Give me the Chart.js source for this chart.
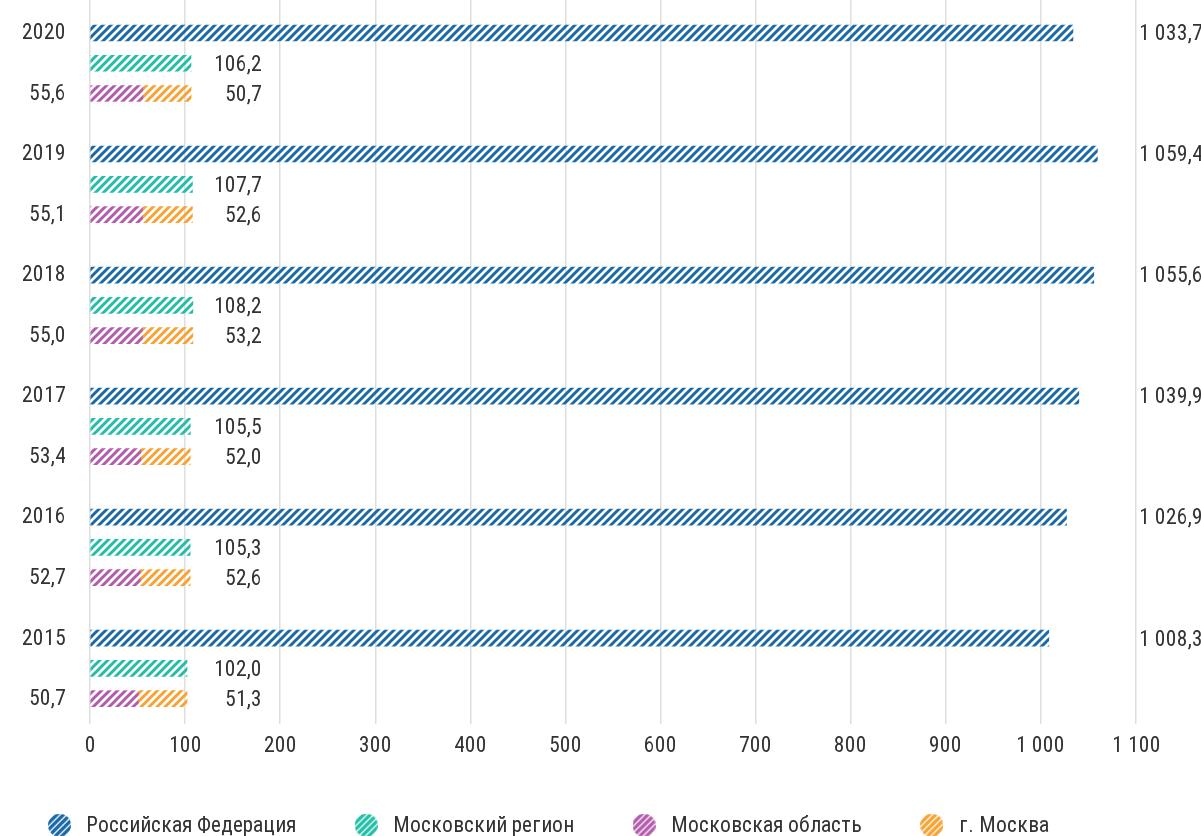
<!DOCTYPE html>
<html lang="ru">
<head>
<meta charset="utf-8">
<title>Российская Федерация и Московский регион</title>
<script src="https://cdn.jsdelivr.net/npm/chart.js@4.4.1/dist/chart.umd.min.js"></script>
<style>
  @font-face { font-family: 'RCond'; src: local('Roboto Condensed'), local('RobotoCondensed-Regular'); }
  html, body { margin: 0; padding: 0; background: #fff; }
  #wrap { position: relative; width: 1201px; height: 836px; }
</style>
</head>
<body>
<div id="wrap"><canvas id="chart"></canvas></div>
<script>
const years = ['2020', '2019', '2018', '2017', '2016', '2015'];
const russia = [1033.7, 1059.4, 1055.6, 1039.9, 1026.9, 1008.3];
const moscowRegion = [106.2, 107.7, 108.2, 105.5, 105.3, 102.0];
const moscowOblast = [55.6, 55.1, 55.0, 53.4, 52.7, 50.7];
const moscowCity = [50.7, 52.6, 53.2, 52.0, 52.6, 51.3];
const seriesNames = ['Российская Федерация', 'Московский регион', 'Московская область', 'г. Москва'];
const seriesColors = ['#1b6aa7', '#22bea8', '#b35bac', '#f6a234'];

const FONT = "RCond, 'Roboto Condensed', Roboto, sans-serif";
const TEXT = '#333333';

// each year takes 4 rows: country, region, oblast+city, gap
const rowOf = (i, k) => i * 4 + k;

function fmt(v, dec) {
  const s = v.toFixed(dec === undefined ? 1 : dec).split('.');
  const int = s[0].replace(/\B(?=(\d{3})+(?!\d))/g, ' ');
  return s.length > 1 ? int + ',' + s[1] : int;
}

const canvas = document.getElementById('chart');
const ctx = canvas.getContext('2d');

function hatch(color) {
  const c = document.createElement('canvas');
  const s = 8;
  c.width = s; c.height = s;
  const g = c.getContext('2d');
  g.strokeStyle = color;
  g.lineWidth = 3;
  g.beginPath();
  g.moveTo(-2, s + 2); g.lineTo(s + 2, -2);
  g.moveTo(-2, 2); g.lineTo(2, -2);
  g.moveTo(s - 2, s + 2); g.lineTo(s + 2, s - 2);
  g.stroke();
  return ctx.createPattern(c, 'repeat');
}

function legendIcon(color) {
  const c = document.createElement('canvas');
  const d = 23;
  c.width = d; c.height = d;
  const g = c.getContext('2d');
  g.beginPath();
  g.arc(d / 2, d / 2, d / 2, 0, Math.PI * 2);
  g.clip();
  g.strokeStyle = color;
  g.lineWidth = 3.4;
  g.beginPath();
  for (let k = -4; k <= 4; k++) {
    const o = k * 6.6;
    g.moveTo(o - 2, d + 2); g.lineTo(o + d + 2, -2);
  }
  g.stroke();
  return c;
}

const yLabels = {};
years.forEach((y, i) => {
  yLabels[rowOf(i, 0)] = y;
  yLabels[rowOf(i, 2)] = fmt(moscowOblast[i]);
});

const icons = seriesColors.map(legendIcon);

const valueLabels = {
  id: 'valueLabels',
  afterDatasetsDraw(chart) {
    const { ctx, scales: { x } } = chart;
    ctx.save();
    ctx.font = '21.5px ' + FONT;
    ctx.fillStyle = TEXT;
    ctx.textBaseline = 'middle';
    ctx.textAlign = 'left';
    chart.getDatasetMeta(0).data.forEach((bar, i) => {
      ctx.fillText(fmt(russia[i]), x.getPixelForValue(1103), bar.y + 1);
    });
    ctx.textAlign = 'right';
    chart.getDatasetMeta(1).data.forEach((bar, i) => {
      ctx.fillText(fmt(moscowRegion[i]), x.getPixelForValue(181), bar.y + 1);
    });
    chart.getDatasetMeta(3).data.forEach((bar, i) => {
      ctx.fillText(fmt(moscowCity[i]), x.getPixelForValue(181), bar.y + 1);
    });
    ctx.restore();
  }
};

function draw() {
  new Chart(canvas, {
    type: 'bar',
    data: {
      datasets: [
        { label: seriesNames[0], data: russia.map((v, i) => ({ x: v, y: rowOf(i, 0) })), backgroundColor: hatch(seriesColors[0]) },
        { label: seriesNames[1], data: moscowRegion.map((v, i) => ({ x: v, y: rowOf(i, 1) })), backgroundColor: hatch(seriesColors[1]) },
        { label: seriesNames[2], data: moscowOblast.map((v, i) => ({ x: v, y: rowOf(i, 2) })), backgroundColor: hatch(seriesColors[2]) },
        { label: seriesNames[3], data: moscowCity.map((v, i) => ({ x: v, y: rowOf(i, 2) })), backgroundColor: hatch(seriesColors[3]) }
      ]
    },
    options: {
      indexAxis: 'y',
      responsive: true,
      maintainAspectRatio: false,
      animation: false,
      barThickness: 16,
      layout: { padding: { left: -10.5, right: 65, top: 0, bottom: -10 } },
      scales: {
        x: {
          type: 'linear',
          min: 0,
          max: 1100,
          stacked: true,
          border: { display: false },
          grid: { color: '#dedede', lineWidth: 1.5, drawTicks: false },
          ticks: {
            stepSize: 100,
            padding: 9,
            color: TEXT,
            font: { family: FONT, size: 21.5 },
            callback: (v) => fmt(v, 0)
          },
          afterFit: (scale) => { scale.height = 37; scale.paddingLeft = 0; scale.paddingRight = 0; }
        },
        y: {
          type: 'linear',
          reverse: true,
          bounds: 'data',
          offset: false,
          min: -1.091,
          max: 22.82,
          stacked: true,
          border: { display: false },
          grid: { display: false, drawTicks: false, offset: false },
          afterBuildTicks: (scale) => {
            scale.ticks = Object.keys(yLabels).map((r) => ({ value: Number(r) }));
          },
          ticks: {
            autoSkip: false,
            padding: 24,
            color: TEXT,
            font: { family: FONT, size: 21.5 },
            callback: (v) => yLabels[v] || ''
          },
          afterFit: (scale) => { scale.width = 100.5; scale.paddingTop = 0; scale.paddingBottom = 0; }
        }
      },
      plugins: {
        tooltip: { enabled: false },
        legend: {
          position: 'bottom',
          align: 'start',
          labels: {
            usePointStyle: true,
            pointStyleWidth: 32,
            padding: 54,
            color: TEXT,
            font: { family: FONT, size: 21.5 },
            generateLabels: (chart) => {
              const items = Chart.defaults.plugins.legend.labels.generateLabels(chart);
              items.forEach((it, i) => { it.pointStyle = icons[i]; });
              return items;
            }
          }
        }
      }
    },
    plugins: [valueLabels]
  });
}

Promise.all([document.fonts.load('22px RCond', 'Рф1')])
  .catch(() => null)
  .then(draw);
</script>
</body>
</html>
